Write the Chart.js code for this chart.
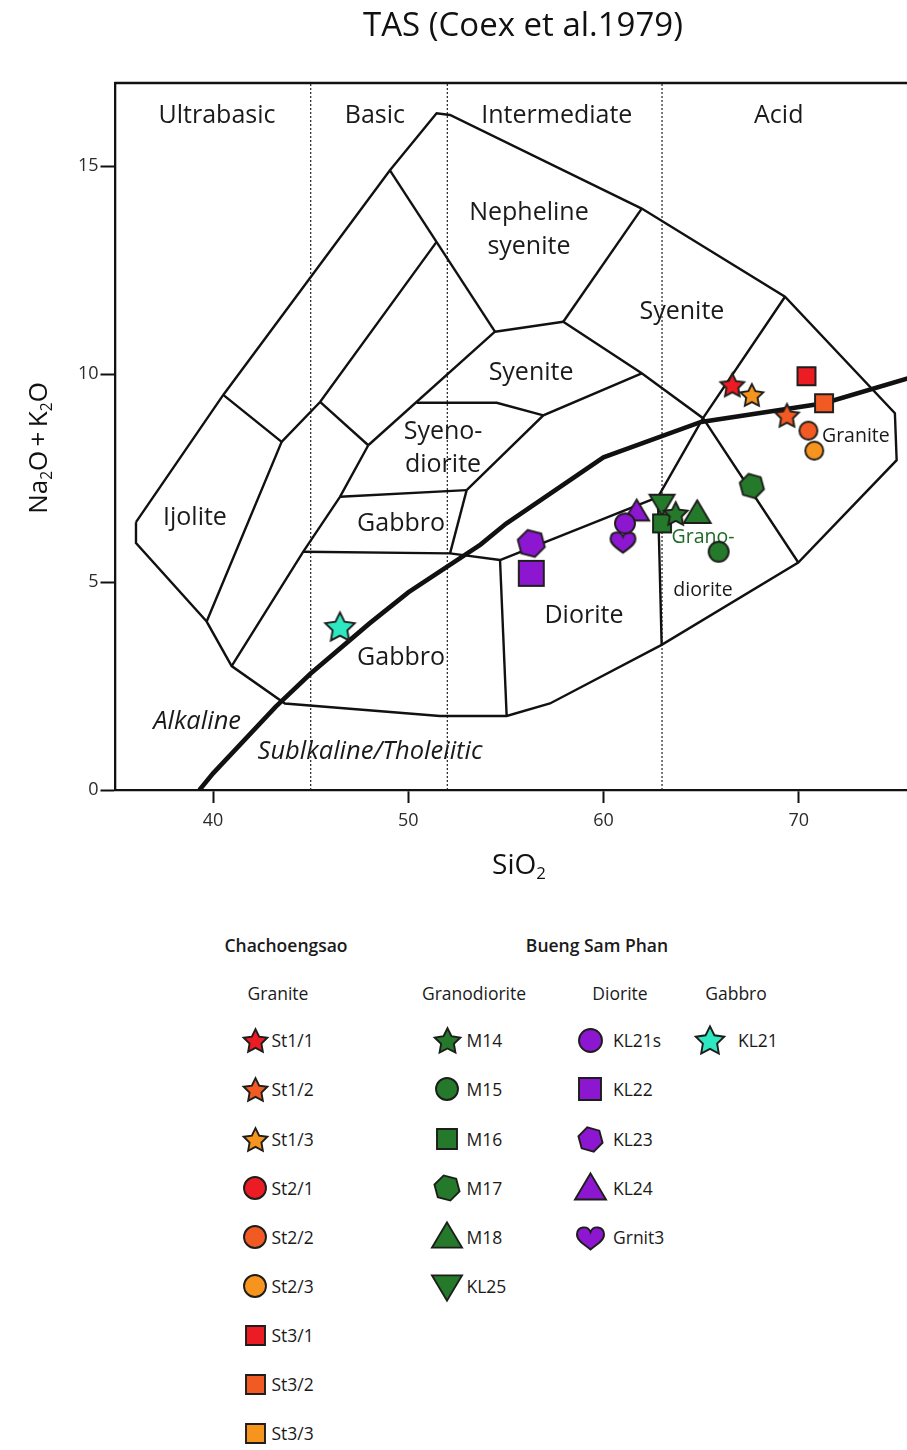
<!DOCTYPE html>
<html>
<head>
<meta charset="utf-8">
<title>TAS (Coex et al.1979)</title>
<script src="https://cdn.jsdelivr.net/npm/chart.js@4.4.1/dist/chart.umd.min.js"></script>
<style>
  html, body { margin: 0; padding: 0; background: #ffffff; }
  #page { position: relative; width: 907px; height: 1450px; overflow: hidden;
          font-family: "Open Sans", "Noto Sans", sans-serif; color: #1a1a1a; }
  #tas { position: absolute; left: 0; top: 0; }
  .lg-text { position: absolute; white-space: nowrap; font-size: 17.5px; line-height: 22px; transform: translateY(-50%); }
  .lg-head { font-weight: 600; transform: translate(-50%, -50%); }
  .lg-sub { transform: translate(-50%, -50%); }
  .lg-mark { position: absolute; }
</style>
</head>
<body>
<div id="page">
  <canvas id="tas" width="907" height="900"></canvas>
  <div id="legend"></div>
</div>
<script>
// ---------- Samples: SiO2 and Na2O + K2O (wt%) ----------
const sampleNames  = ['St1/1', 'St1/2', 'St1/3', 'St2/1', 'St2/2', 'St2/3', 'St3/1', 'St3/2', 'St3/3',
                      'M14', 'M15', 'M16', 'M17', 'M18', 'KL25',
                      'KL21s', 'KL22', 'KL23', 'KL24', 'Grnit3',
                      'KL21'];
const sampleSiO2   = [66.6, 69.4, 67.6, null, 70.5, 70.8, 70.4, 71.3, null,
                      63.7, 65.9, 63.0, 67.6, 64.8, 63.0,
                      61.1, 56.3, 56.3, 61.7, 61.0,
                      46.5];
const sampleAlkali = [9.74, 9.01, 9.50, null, 8.64, 8.16, 9.95, 9.30, null,
                      6.65, 5.73, 6.41, 7.31, 6.65, 6.89,
                      6.41, 5.21, 5.93, 6.69, 5.97,
                      3.93];

// ---------- Axis ticks and silica divisions ----------
const xTickValues = [40, 50, 60, 70];
const yTickValues = [0, 5, 10, 15];
const silicaDivisions = [45, 52, 63];

// ---------- Field boundaries (SiO2, Na2O + K2O) ----------
const outline = [[36.05, 6.44], [36.05, 5.94], [39.67, 4.05], [40.95, 2.98], [43.68, 2.08], [51.62, 1.78],
                 [55.04, 1.78], [57.26, 2.08], [62.98, 3.49], [69.98, 5.47], [75.02, 7.93], [74.93, 9.06],
                 [69.30, 11.86], [61.96, 13.98], [52.14, 16.23], [51.45, 16.27], [49.06, 14.90],
                 [40.52, 9.50], [36.05, 6.44]];
const ijoliteEdge       = [[40.52, 9.50], [43.51, 8.37], [39.67, 4.05]];
const basicStrip        = [[43.51, 8.37], [45.48, 9.33], [51.45, 13.18]];
const nephSyeniteLeft   = [[49.06, 14.90], [54.44, 11.02]];
const basicCross        = [[45.48, 9.33], [47.95, 8.29]];
const syenoLeft         = [[54.44, 11.02], [47.95, 8.29]];
const gabbroLeft        = [[47.95, 8.29], [46.50, 7.05], [44.62, 5.73], [40.95, 2.98]];
const gabbroTop         = [[46.50, 7.05], [52.99, 7.21]];
const gabbroRight       = [[52.99, 7.21], [52.14, 5.69]];
const gabbroBase        = [[44.62, 5.73], [52.14, 5.69], [54.70, 5.53]];
const dioriteLeft       = [[54.70, 5.53], [55.04, 1.78]];
const syenoTop          = [[50.43, 9.31], [54.53, 9.31], [56.92, 9.01]];
const syenoRight        = [[52.99, 7.21], [56.92, 9.01], [61.96, 10.02]];
const nephSyeniteBase   = [[54.44, 11.02], [57.94, 11.26]];
const nephSyeniteRight  = [[57.94, 11.26], [61.96, 13.98]];
const syeniteBase       = [[57.94, 11.26], [61.96, 10.02], [65.10, 8.94], [69.98, 5.47]];
const graniteLeft       = [[69.30, 11.86], [65.10, 8.94], [62.79, 7.04]];
const dioriteRight      = [[62.98, 3.49], [62.79, 7.04]];
const dioriteTop        = [[54.70, 5.53], [62.79, 7.04]];
const fieldBoundaries = [outline, ijoliteEdge, basicStrip, nephSyeniteLeft, basicCross, syenoLeft,
                         gabbroLeft, gabbroTop, gabbroRight, gabbroBase, dioriteLeft, syenoTop, syenoRight,
                         nephSyeniteBase, nephSyeniteRight, syeniteBase, graniteLeft, dioriteRight, dioriteTop];

// Alkaline / subalkaline divide
const alkalineDivide = [[39.3, 0], [40, 0.4], [43.2, 2.0], [45, 2.8], [48, 4.0], [50, 4.75], [53.7, 5.9],
                        [55, 6.4], [60, 8.0], [65, 8.85], [71.3, 9.3], [75.6, 9.9]];

// ---------- Field names (text, SiO2, alkali, size, style, colour) ----------
const fieldLabels = [
  ['Ultrabasic', 40.2, 16.2, 25, '', '#1a1a1a'],
  ['Basic', 48.29, 16.2, 25, '', '#1a1a1a'],
  ['Intermediate', 57.61, 16.2, 25, '', '#1a1a1a'],
  ['Acid', 68.98, 16.2, 25, '', '#1a1a1a'],
  ['Nepheline', 56.18, 13.87, 25, '', '#1a1a1a'],
  ['syenite', 56.18, 13.05, 25, '', '#1a1a1a'],
  ['Syenite', 64.02, 11.49, 25, '', '#1a1a1a'],
  ['Syenite', 56.29, 10.02, 25, '', '#1a1a1a'],
  ['Syeno-', 51.78, 8.61, 25, '', '#1a1a1a'],
  ['diorite', 51.78, 7.81, 25, '', '#1a1a1a'],
  ['Gabbro', 49.63, 6.39, 25, '', '#1a1a1a'],
  ['Ijolite', 39.07, 6.54, 25, '', '#1a1a1a'],
  ['Gabbro', 49.63, 3.17, 25, '', '#1a1a1a'],
  ['Diorite', 59.0, 4.18, 25, '', '#1a1a1a'],
  ['Granite', 72.93, 8.51, 19.5, '', '#1a1a1a'],
  ['Grano-', 65.10, 6.08, 19.5, '', '#1f6b25'],
  ['diorite', 65.10, 4.81, 19.5, '', '#1a1a1a'],
  ['Alkaline', 39.18, 1.63, 25.5, 'italic ', '#1a1a1a'],
  ['Sublkaline/Tholeiitic', 48.04, 0.91, 25.5, 'italic ', '#1a1a1a']
];

// ---------- Marker styles ----------
const RED = '#ec1c24', ORANGE_RED = '#f15a22', ORANGE = '#f7941d';
const GREEN = '#25792b', PURPLE = '#8d17d0', CYAN = '#2ee8c2';
const sampleShape = ['star', 'star', 'star', 'circle', 'circle', 'circle', 'square', 'square', 'square',
                     'star', 'circle', 'square', 'hexagon', 'triangle', 'invTriangle',
                     'circle', 'square', 'hexagon', 'triangle', 'heart',
                     'star'];
const sampleColor = [RED, ORANGE_RED, ORANGE, RED, ORANGE_RED, ORANGE, RED, ORANGE_RED, ORANGE,
                     GREEN, GREEN, GREEN, GREEN, GREEN, GREEN,
                     PURPLE, PURPLE, PURPLE, PURPLE, PURPLE,
                     CYAN];
const plotMarkerSize   = [25, 25, 24, 18, 18, 18, 18, 18, 18,
                          25, 20, 18, 25, 27, 25,
                          20, 25, 28, 25, 25,
                          31];
const legendMarkerSize = [25, 25, 25, 22, 22, 22, 19, 19, 19,
                          27, 22, 20, 26, 30, 30,
                          23, 22, 25, 31, 27,
                          30];

const FONT = '"Open Sans", "Noto Sans", sans-serif';

function shapePath(ctx, shape, cx, cy, s) {
  const r = s / 2;
  ctx.beginPath();
  if (shape === 'circle') {
    ctx.arc(cx, cy, r, 0, Math.PI * 2);
  } else if (shape === 'square') {
    ctx.rect(cx - r, cy - r, s, s);
  } else if (shape === 'star') {
    for (let i = 0; i < 10; i++) {
      const a = -Math.PI / 2 + i * Math.PI / 5;
      const rr = i % 2 ? r * 0.5 : r;
      const px = cx + rr * Math.cos(a), py = cy + rr * Math.sin(a) + r * 0.09;
      if (i) ctx.lineTo(px, py); else ctx.moveTo(px, py);
    }
    ctx.closePath();
  } else if (shape === 'hexagon') {
    for (let i = 0; i < 6; i++) {
      const a = Math.PI / 12 + i * Math.PI / 3;
      const px = cx + r * Math.cos(a), py = cy + r * Math.sin(a);
      if (i) ctx.lineTo(px, py); else ctx.moveTo(px, py);
    }
    ctx.closePath();
  } else if (shape === 'triangle' || shape === 'invTriangle') {
    const h = s * 0.84, k = shape === 'triangle' ? 1 : -1;
    ctx.moveTo(cx, cy - k * h * 0.58);
    ctx.lineTo(cx + r, cy + k * h * 0.42);
    ctx.lineTo(cx - r, cy + k * h * 0.42);
    ctx.closePath();
  } else if (shape === 'heart') {
    const w = s, h = s * 0.92;
    ctx.moveTo(cx, cy + h * 0.48);
    ctx.bezierCurveTo(cx - w * 0.2, cy + h * 0.3, cx - w * 0.52, cy + h * 0.12, cx - w * 0.5, cy - h * 0.14);
    ctx.bezierCurveTo(cx - w * 0.48, cy - h * 0.46, cx - w * 0.1, cy - h * 0.5, cx, cy - h * 0.22);
    ctx.bezierCurveTo(cx + w * 0.1, cy - h * 0.5, cx + w * 0.48, cy - h * 0.46, cx + w * 0.5, cy - h * 0.14);
    ctx.bezierCurveTo(cx + w * 0.52, cy + h * 0.12, cx + w * 0.2, cy + h * 0.3, cx, cy + h * 0.48);
    ctx.closePath();
  }
}

function makeMarker(shape, color, s) {
  const c = document.createElement('canvas');
  const d = Math.ceil(s + 6);
  c.width = d; c.height = d;
  const ctx = c.getContext('2d');
  shapePath(ctx, shape, d / 2, d / 2, s);
  ctx.fillStyle = color;
  ctx.fill();
  ctx.lineWidth = 1.9;
  ctx.lineJoin = 'miter';
  ctx.strokeStyle = '#1d1d1b';
  ctx.stroke();
  return c;
}

const toPoints = arr => arr.map(([x, y]) => ({ x, y }));

const datasets = [];
// samples (listed first so they sit above the field lines)
sampleNames.forEach((name, i) => {
  const pts = sampleSiO2[i] == null ? [] : [{ x: sampleSiO2[i], y: sampleAlkali[i] }];
  datasets.push({
    label: name,
    data: pts,
    pointStyle: makeMarker(sampleShape[i], sampleColor[i], plotMarkerSize[i]),
    pointRadius: 12,
    pointHoverRadius: 12,
    showLine: false,
    order: 0
  });
});
datasets.push({
  label: 'Alkaline divide',
  data: toPoints(alkalineDivide),
  showLine: true, borderColor: '#111111', borderWidth: 4.6, pointRadius: 0, order: 1
});
fieldBoundaries.forEach((b, i) => {
  datasets.push({
    label: 'field ' + i,
    data: toPoints(b),
    showLine: true, borderColor: '#111111', borderWidth: 2.4, pointRadius: 0, order: 2
  });
});
silicaDivisions.forEach(v => {
  datasets.push({
    label: 'SiO2 ' + v,
    data: [{ x: v, y: 0 }, { x: v, y: 17 }],
    showLine: true, borderColor: '#222222', borderWidth: 1.2, borderDash: [2, 2], pointRadius: 0, order: 3
  });
});

function drawRich(ctx, parts, x, y, size) {
  const sub = size * 0.6;
  let total = 0;
  parts.forEach(p => {
    ctx.font = (p.sub ? sub : size) + 'px ' + FONT;
    p.w = ctx.measureText(p.t).width;
    total += p.w;
  });
  let cx = x - total / 2;
  parts.forEach(p => {
    ctx.font = (p.sub ? sub : size) + 'px ' + FONT;
    ctx.fillText(p.t, cx, p.sub ? y + size * 0.3 : y);
    cx += p.w;
  });
}

const tasDecor = {
  id: 'tasDecor',
  beforeDatasetsDraw(chart) {
    const { ctx, chartArea, scales } = chart;
    ctx.save();
    // top frame line
    ctx.strokeStyle = '#111111';
    ctx.lineWidth = 2.3;
    ctx.beginPath();
    ctx.moveTo(chartArea.left - 1, chartArea.top);
    ctx.lineTo(chartArea.right, chartArea.top);
    ctx.stroke();
    // field names
    ctx.textAlign = 'center';
    ctx.textBaseline = 'middle';
    fieldLabels.forEach(([t, sx, ay, size, style, color]) => {
      ctx.font = style + size + 'px ' + FONT;
      ctx.fillStyle = color;
      ctx.fillText(t, scales.x.getPixelForValue(sx), scales.y.getPixelForValue(ay));
    });
    ctx.restore();
  },
  afterDraw(chart) {
    const { ctx } = chart;
    ctx.save();
    ctx.fillStyle = '#111111';
    ctx.textBaseline = 'middle';
    ctx.textAlign = 'center';
    ctx.font = '33px ' + FONT;
    ctx.fillText('TAS (Coex et al.1979)', 523, 27);
    ctx.textAlign = 'left';
    drawRich(ctx, [{ t: 'SiO' }, { t: '2', sub: true }], 519, 866, 28);
    ctx.translate(40, 448);
    ctx.rotate(-Math.PI / 2);
    drawRich(ctx, [{ t: 'Na' }, { t: '2', sub: true }, { t: 'O\u2009+\u2009K' }, { t: '2', sub: true }, { t: 'O' }], 0, 0, 26);
    ctx.restore();
  }
};

new Chart(document.getElementById('tas'), {
  type: 'scatter',
  data: { datasets },
  plugins: [tasDecor],
  options: {
    responsive: false,
    animation: false,
    events: [],
    layout: { autoPadding: false, padding: { top: 83, left: 0, right: 0, bottom: 0 } },
    plugins: { legend: { display: false }, tooltip: { enabled: false }, title: { display: false } },
    scales: {
      x: {
        type: 'linear', min: 35, max: 75.55,
        afterFit: s => { s.height = 110; },
        afterBuildTicks: s => { s.ticks = xTickValues.map(v => ({ value: v })); },
        grid: { drawOnChartArea: false, drawTicks: true, tickLength: 13, tickWidth: 2, tickColor: '#111111' },
        border: { display: true, color: '#111111', width: 2.3 },
        ticks: { padding: 7, color: '#2b2b2b', font: { family: FONT, size: 18 }, maxRotation: 0, autoSkip: false,
                 callback: v => String(v) }
      },
      y: {
        type: 'linear', min: 0, max: 17,
        afterFit: s => { s.width = 115.5; },
        afterBuildTicks: s => { s.ticks = yTickValues.map(v => ({ value: v })); },
        grid: { drawOnChartArea: false, drawTicks: true, tickLength: 15, tickWidth: 2, tickColor: '#111111' },
        border: { display: true, color: '#111111', width: 2.3 },
        ticks: { padding: 2, color: '#2b2b2b', font: { family: FONT, size: 18 }, autoSkip: false,
                 callback: v => String(v) }
      }
    }
  }
});

// ---------- Legend ----------
const legendRows = [1040, 1089, 1139, 1188, 1237, 1286, 1335, 1384, 1433];
const legendColumns = [
  { members: [0, 1, 2, 3, 4, 5, 6, 7, 8], markX: 255, textX: 271.5 },
  { members: [9, 10, 11, 12, 13, 14], markX: 447, textX: 466.5 },
  { members: [15, 16, 17, 18, 19], markX: 590, textX: 613 },
  { members: [20], markX: 710, textX: 738 }
];
const legendHeads = [['Chachoengsao', 286, 945], ['Bueng Sam Phan', 597, 945]];
const legendSubs = [['Granite', 278, 993], ['Granodiorite', 474, 993], ['Diorite', 620, 993], ['Gabbro', 736, 993]];

const legendEl = document.getElementById('legend');
legendHeads.forEach(([t, x, y]) => {
  const d = document.createElement('div');
  d.className = 'lg-text lg-head';
  d.style.left = x + 'px'; d.style.top = y + 'px';
  d.textContent = t;
  legendEl.appendChild(d);
});
legendSubs.forEach(([t, x, y]) => {
  const d = document.createElement('div');
  d.className = 'lg-text lg-sub';
  d.style.left = x + 'px'; d.style.top = y + 'px';
  d.textContent = t;
  legendEl.appendChild(d);
});
legendColumns.forEach(col => {
  col.members.forEach((idx, r) => {
    const y = legendRows[r];
    const m = makeMarker(sampleShape[idx], sampleColor[idx], legendMarkerSize[idx]);
    m.className = 'lg-mark';
    m.style.left = (col.markX - m.width / 2) + 'px';
    m.style.top = (y - m.height / 2) + 'px';
    legendEl.appendChild(m);
    const d = document.createElement('div');
    d.className = 'lg-text';
    d.style.left = col.textX + 'px'; d.style.top = y + 'px';
    d.textContent = sampleNames[idx];
    legendEl.appendChild(d);
  });
});
</script>
</body>
</html>
